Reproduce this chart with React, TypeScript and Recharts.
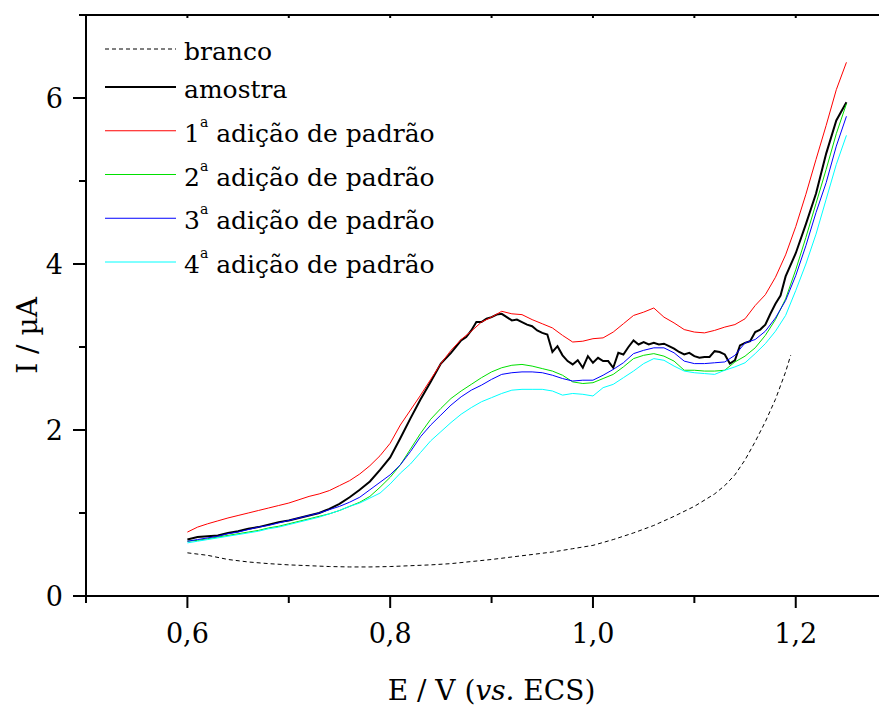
import { LineChart, Line, XAxis, YAxis, Legend, Label } from "recharts";

const FONT = "'DejaVu Serif', serif";

// potencial (V vs. ECS) usado nas curvas das adições
const potentials = [
  0.6, 0.61, 0.62, 0.63, 0.64, 0.65, 0.66, 0.67, 0.68, 0.69,
  0.7, 0.71, 0.72, 0.73, 0.74, 0.75, 0.76, 0.77, 0.78, 0.79,
  0.8, 0.81, 0.82, 0.83, 0.84, 0.85, 0.86, 0.87, 0.88, 0.89,
  0.9, 0.91, 0.92, 0.93, 0.94, 0.95, 0.96, 0.97, 0.98, 0.99,
  1.0, 1.01, 1.02, 1.03, 1.04, 1.05, 1.06, 1.07, 1.08, 1.09,
  1.1, 1.11, 1.12, 1.13, 1.14, 1.15, 1.16, 1.17, 1.18, 1.19,
  1.2, 1.21, 1.22, 1.23, 1.24, 1.25,
];

const brancoPotentials = [
  0.6, 0.62, 0.64, 0.66, 0.68, 0.7, 0.72, 0.74, 0.76, 0.78, 0.8, 0.82,
  0.84, 0.86, 0.88, 0.9, 0.92, 0.94, 0.96, 0.98, 1.0, 1.02, 1.04, 1.06,
  1.08, 1.1, 1.12, 1.13, 1.14, 1.15, 1.16, 1.17, 1.18, 1.19, 1.195,
];
const brancoCurrent = [
  0.52, 0.49, 0.44, 0.41, 0.39, 0.375, 0.365, 0.355, 0.35, 0.35, 0.355, 0.365,
  0.375, 0.39, 0.415, 0.44, 0.47, 0.5, 0.53, 0.57, 0.61, 0.68, 0.76, 0.85,
  0.96, 1.08, 1.23, 1.33, 1.46, 1.64, 1.86, 2.1, 2.37, 2.7, 2.9,
];

// amostra: [E, I] (mais pontos na zona ruidosa)
const amostraPoints: [number, number][] = [
  [0.6, 0.68], [0.61, 0.71], [0.62, 0.72], [0.63, 0.73], [0.64, 0.76],
  [0.65, 0.78], [0.66, 0.81], [0.67, 0.83], [0.68, 0.86], [0.69, 0.89],
  [0.7, 0.91], [0.71, 0.94], [0.72, 0.97], [0.73, 1.0], [0.74, 1.05],
  [0.75, 1.11], [0.76, 1.19], [0.77, 1.28], [0.78, 1.38], [0.79, 1.52],
  [0.8, 1.67], [0.81, 1.9], [0.82, 2.14], [0.83, 2.37], [0.84, 2.58],
  [0.85, 2.8], [0.86, 2.93], [0.87, 3.08],
  [0.875, 3.12], [0.88, 3.2], [0.885, 3.3], [0.89, 3.3], [0.895, 3.34],
  [0.9, 3.36], [0.905, 3.39], [0.91, 3.4], [0.915, 3.36], [0.92, 3.32],
  [0.925, 3.33], [0.93, 3.3], [0.935, 3.27], [0.94, 3.25], [0.945, 3.2],
  [0.95, 3.17], [0.955, 3.15], [0.96, 2.94], [0.965, 3.01], [0.97, 2.9],
  [0.975, 2.83], [0.98, 2.79], [0.985, 2.84], [0.99, 2.75], [0.995, 2.89],
  [1.0, 2.81], [1.005, 2.87], [1.01, 2.83], [1.015, 2.83], [1.02, 2.75],
  [1.025, 2.93], [1.03, 2.91], [1.035, 3.0], [1.04, 3.08], [1.045, 3.03],
  [1.05, 3.06], [1.055, 3.03], [1.06, 3.05], [1.065, 3.03], [1.07, 3.04],
  [1.075, 3.01], [1.08, 2.98], [1.085, 2.94], [1.09, 2.91], [1.095, 2.93],
  [1.1, 2.89], [1.105, 2.87], [1.11, 2.88], [1.115, 2.88], [1.12, 2.95],
  [1.125, 2.94], [1.13, 2.91], [1.135, 2.8], [1.14, 2.84], [1.145, 3.02],
  [1.15, 3.05], [1.155, 3.07], [1.16, 3.18], [1.165, 3.21], [1.17, 3.27],
  [1.175, 3.4], [1.18, 3.52], [1.185, 3.62], [1.19, 3.85],
  [1.2, 4.13], [1.21, 4.48], [1.22, 4.85], [1.23, 5.33], [1.24, 5.73], [1.25, 5.95],
];

const adicao1Current = [
  0.77, 0.83, 0.87, 0.905, 0.94, 0.97, 1.0, 1.03, 1.06, 1.09,
  1.12, 1.16, 1.2, 1.23, 1.27, 1.33, 1.39, 1.47, 1.57, 1.69,
  1.84, 2.06, 2.24, 2.42, 2.61, 2.8, 2.96, 3.09, 3.19, 3.3,
  3.36, 3.43, 3.4, 3.39, 3.33, 3.28, 3.23, 3.14, 3.06, 3.07,
  3.1, 3.11, 3.18, 3.28, 3.38, 3.42, 3.47, 3.36, 3.29, 3.21,
  3.18, 3.17, 3.2, 3.24, 3.27, 3.34, 3.5, 3.63, 3.84, 4.11,
  4.45, 4.84, 5.26, 5.67, 6.1, 6.43,
];
const adicao2Current = [
  0.66, 0.67, 0.69, 0.71, 0.73, 0.75, 0.77, 0.79, 0.82, 0.84,
  0.87, 0.9, 0.93, 0.96, 0.99, 1.03, 1.08, 1.13, 1.2, 1.31,
  1.43, 1.58, 1.77, 1.96, 2.13, 2.26, 2.38, 2.47, 2.55, 2.63,
  2.7, 2.75, 2.78, 2.79, 2.77, 2.74, 2.71, 2.66, 2.58, 2.56,
  2.57, 2.62, 2.67, 2.76, 2.86, 2.9, 2.92, 2.89, 2.83, 2.72,
  2.72, 2.71, 2.71, 2.72, 2.82, 2.89, 2.99, 3.14, 3.33, 3.58,
  3.93, 4.32, 4.73, 5.14, 5.57, 5.93,
];
const adicao3Current = [
  0.66, 0.68, 0.7, 0.72, 0.75, 0.77, 0.8, 0.83, 0.85, 0.88,
  0.91, 0.94, 0.97, 1.0, 1.04, 1.08, 1.13, 1.19, 1.28, 1.37,
  1.46, 1.58, 1.74, 1.92, 2.06, 2.18, 2.3, 2.4, 2.48, 2.54,
  2.61, 2.67, 2.69, 2.7, 2.7, 2.69, 2.66, 2.62, 2.59, 2.6,
  2.6, 2.66, 2.73, 2.81, 2.92, 2.96, 2.99, 2.99, 2.93, 2.83,
  2.8, 2.8, 2.81, 2.82, 2.9, 3.05, 3.09, 3.19, 3.35, 3.56,
  3.86, 4.22, 4.62, 4.98, 5.42, 5.78,
];
const adicao4Current = [
  0.64, 0.66, 0.68, 0.7, 0.72, 0.74, 0.76, 0.78, 0.81, 0.83,
  0.86, 0.89, 0.92, 0.95, 0.99, 1.03, 1.08, 1.12, 1.18, 1.24,
  1.35, 1.48, 1.59, 1.73, 1.87, 1.98, 2.09, 2.19, 2.27, 2.34,
  2.39, 2.44, 2.48, 2.49, 2.49, 2.49, 2.47, 2.42, 2.44, 2.43,
  2.41, 2.51, 2.55, 2.63, 2.71, 2.8, 2.86, 2.84, 2.77, 2.71,
  2.69, 2.68, 2.67, 2.72, 2.76, 2.81, 2.92, 3.04, 3.19, 3.38,
  3.68, 4.0, 4.36, 4.78, 5.2, 5.55,
];

const xTicks = [0.5, 0.6, 0.7, 0.8, 0.9, 1.0, 1.1, 1.2];
const xLabelled = [0.6, 0.8, 1.0, 1.2];
const yTicks = [0, 1, 2, 3, 4, 5, 6, 7];
const yLabelled = [0, 2, 4, 6];

const toRows = (es: number[], is: number[]) => es.map((e, k) => ({ e, i: is[k] }));

const series = [
  { name: "branco", data: toRows(brancoPotentials, brancoCurrent), color: "#000000", width: 1, dash: "4 3" },
  { name: "amostra", data: amostraPoints.map(([e, i]) => ({ e, i })), color: "#000000", width: 2 },
  { name: "1ª adição de padrão", data: toRows(potentials, adicao1Current), color: "#ff0000", width: 1 },
  { name: "2ª adição de padrão", data: toRows(potentials, adicao2Current), color: "#00e000", width: 1 },
  { name: "3ª adição de padrão", data: toRows(potentials, adicao3Current), color: "#0000ff", width: 1 },
  { name: "4ª adição de padrão", data: toRows(potentials, adicao4Current), color: "#00ffff", width: 1 },
];

const fmt = (v: number) => v.toFixed(1).replace(".", ",");

function XTick({ x, y, payload }: any) {
  const v = payload.value;
  const major = xLabelled.includes(v);
  return (
    <g>
      <line x1={x} x2={x} y1={y} y2={y + (major ? 12 : 7)} stroke="#000" strokeWidth={2} />
      {major && (
        <text x={x} y={y + 47} textAnchor="middle" fontSize={27} fontFamily={FONT} fill="#000">
          {fmt(v)}
        </text>
      )}
    </g>
  );
}

function TopTick({ x, y }: any) {
  return <line x1={x} x2={x} y1={y} y2={y + 3} stroke="#000" strokeWidth={2} />;
}

function YTick({ x, y, payload }: any) {
  const v = payload.value;
  const major = yLabelled.includes(v);
  const len = major ? 13 : 7;
  return (
    <g>
      <line x1={x} x2={x - len} y1={y} y2={y} stroke="#000" strokeWidth={2} />
      {major && (
        <text x={x - len - 10} y={y} dy="0.36em" textAnchor="end" fontSize={27} fontFamily={FONT} fill="#000">
          {v}
        </text>
      )}
    </g>
  );
}

function LegendBox() {
  return (
    <svg width={470} height={290} style={{ display: "block" }}>
      {series.map((s, k) => {
        const cy = 41 + (k >= 1 ? 38 + (k - 1) * 43.75 : 0);
        const [head, tail] = s.name.split("ª");
        return (
          <g key={s.name}>
            <line x1={97} x2={168} y1={cy} y2={cy} stroke={s.color} strokeWidth={s.width} strokeDasharray={s.dash} />
            <text x={176} y={cy + 11} fontSize={25} fontFamily={FONT} fill="#000">
              {tail === undefined ? (
                s.name
              ) : (
                <>
                  {head}
                  <tspan fontSize={14} dy={-15}>a</tspan>
                  <tspan dy={15}>{tail}</tspan>
                </>
              )}
            </text>
          </g>
        );
      })}
    </svg>
  );
}

export default function App() {
  return (
    <div style={{ width: 879, height: 700, fontFamily: FONT }}>
      <LineChart width={879} height={700} margin={{ top: 6, right: 0, bottom: 32, left: 18 }}>
        <XAxis
          xAxisId={0}
          dataKey="e"
          type="number"
          domain={[0.5, 1.29]}
          allowDataOverflow
          ticks={xTicks}
          interval={0}
          tickLine={false}
          tickSize={0}
          tickMargin={0}
          tick={<XTick />}
          axisLine={{ stroke: "#000", strokeWidth: 2 }}
          height={80}
        >
          <Label
            content={(props: any) => {
              const vb = props.viewBox || { x: 78, y: 588, width: 801 };
              const cx = vb.x + vb.width / 2 + 5;
              return (
                <text x={cx} y={vb.y + 104} textAnchor="middle" fontSize={28} fontFamily={FONT} fill="#000">
                  E / V (<tspan fontStyle="italic">vs.</tspan> ECS)
                </text>
              );
            }}
          />
        </XAxis>
        <XAxis
          xAxisId="top"
          orientation="top"
          dataKey="e"
          type="number"
          domain={[0.5, 1.29]}
          allowDataOverflow
          ticks={xTicks}
          interval={0}
          tickLine={false}
          tickSize={0}
          tickMargin={0}
          tick={<TopTick />}
          axisLine={{ stroke: "#000", strokeWidth: 2 }}
          height={1}
        />
        <YAxis
          type="number"
          domain={[0, 7]}
          allowDataOverflow
          ticks={yTicks}
          interval={0}
          tickLine={false}
          tickSize={0}
          tickMargin={0}
          tick={<YTick />}
          axisLine={{ stroke: "#000", strokeWidth: 2 }}
          width={60}
        >
          <Label
            content={(props: any) => {
              const vb = props.viewBox || { x: 18, y: 7, height: 581 };
              const cx = 29;
              const cy = vb.y + vb.height / 2 + 30;
              return (
                <text
                  x={cx}
                  y={cy}
                  transform={`rotate(-90 ${cx} ${cy})`}
                  textAnchor="middle"
                  fontSize={28}
                  fontFamily={FONT}
                  fill="#000"
                >
                  I / µA
                </text>
              );
            }}
          />
        </YAxis>
        <Legend
          layout="vertical"
          align="center"
          verticalAlign="middle"
          wrapperStyle={{ left: 0, top: 0, width: 470, height: 290 }}
          content={() => <LegendBox />}
        />
        {series.map((s) => (
          <Line
            key={s.name}
            xAxisId={0}
            data={s.data}
            dataKey="i"
            name={s.name}
            type="linear"
            stroke={s.color}
            strokeWidth={s.width}
            strokeDasharray={s.dash}
            dot={false}
            activeDot={false}
            isAnimationActive={false}
          />
        ))}
      </LineChart>
    </div>
  );
}
